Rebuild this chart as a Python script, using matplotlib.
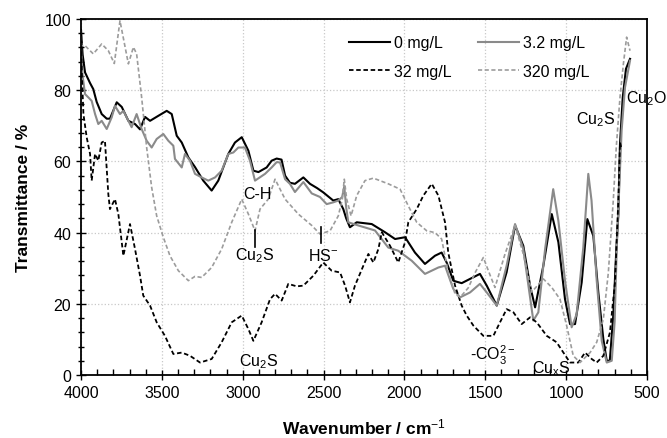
import matplotlib
matplotlib.use("Agg")
import matplotlib.pyplot as plt
from matplotlib.ticker import MultipleLocator

# ── datos (numero de onda [cm-1], transmitancia [%]) ──
wn_0 = [4000, 3990, 3975, 3944, 3924, 3903, 3872, 3841, 3821, 3779, 3748, 3707,
        3666, 3635, 3604, 3573, 3522, 3470, 3439, 3408, 3377, 3336, 3295, 3244,
        3192, 3151, 3089, 3048, 3006, 2965, 2934, 2903, 2852, 2821, 2790, 2760,
        2738, 2708, 2677, 2625, 2584, 2540, 2502, 2440, 2409, 2378, 2360, 2337,
        2295, 2202, 2120, 2058, 1996, 1935, 1873, 1811, 1770, 1739, 1698, 1677,
        1646, 1594, 1533, 1491, 1429, 1368, 1316, 1265, 1223, 1192, 1141, 1089,
        1048, 1007, 976, 945, 904, 869, 832, 801, 770, 749, 730, 708, 690, 677,
        667, 650, 630, 605]
t_0 = [97, 90, 85, 82, 80.3, 76.7, 73.3, 72, 72, 76.6, 75.3, 71.4,
       70.5, 69, 72.5, 71.4, 72.8, 74.2, 73.3, 67.2, 65.3, 61.1, 58.4, 54.6,
       51.8, 54.6, 62.1, 65.3, 66.8, 63, 57.4, 57, 58.3, 60.2, 60.8, 60.5,
       56, 54, 53.7, 55.5, 53.7, 52.5, 51.3, 49, 49.4, 46.6, 44, 41.5,
       42.9, 42.4, 40.1, 38.2, 38.7, 34.4, 31.2, 33.5, 34.4, 31.6, 26.5, 26.2,
       25.8, 27, 28.4, 25.1, 19.5, 28.9, 42, 36.3, 25.1, 19, 30.7, 45.2,
       37.3, 21.3, 14.3, 14.3, 26, 43.8, 39.1, 23.2, 10.1, 4, 4, 17.1, 35, 45.2,
       64.9, 78, 86, 88.8]

wn_3 = [4000, 3990, 3975, 3955, 3934, 3913, 3893, 3872, 3841, 3810, 3790, 3759,
        3738, 3707, 3687, 3656, 3625, 3594, 3563, 3532, 3491, 3460, 3429, 3419,
        3377, 3357, 3326, 3295, 3254, 3213, 3171, 3130, 3089, 3058, 3027, 2986,
        2955, 2924, 2862, 2821, 2790, 2769, 2738, 2708, 2677, 2625, 2573, 2522,
        2481, 2440, 2409, 2385, 2372, 2360, 2347, 2285, 2182, 2100, 2038, 1955,
        1873, 1790, 1749, 1698, 1656, 1594, 1533, 1491, 1429, 1368, 1316, 1265,
        1203, 1172, 1130, 1080, 1048, 1007, 966, 935, 894, 863, 843, 811, 780,
        749, 718, 700, 687, 657, 636, 605]
t_3 = [92, 84, 78.9, 78, 77, 73.3, 70.5, 71.4, 69.1, 72.4, 75.6, 73.3,
       74.2, 71.4, 69.6, 73.3, 69.1, 65.8, 63.9, 66.3, 67.7, 65.8, 64.4, 60.7,
       58.3, 62.1, 60.2, 56.5, 55.5, 54.6, 55.5, 57.4, 62.1, 62.5, 63.9, 63.9,
       60.2, 54.6, 56.5, 58.3, 59.8, 59.7, 55, 53.7, 51.4, 54.2, 51, 50,
       48, 48.5, 49, 50, 53, 47, 42.9, 42, 40.6, 35.8, 34.9, 32.1,
       28.4, 30.2, 30.7, 24.2, 21.8, 23.2, 25.6, 23.2, 19.5, 30.7, 42.4, 35.4,
       15.3, 17.6, 35.4, 52.2, 43.3, 26.5, 13.4, 17.1, 35.8, 56.5, 49, 26.5, 9.6,
       3.5, 4, 15, 35.8, 68.6, 80.8, 88.3]

wn_32 = [4000, 3995, 3985, 3965, 3944, 3934, 3913, 3893, 3872, 3852, 3831, 3821,
         3790, 3769, 3738, 3697, 3666, 3635, 3615, 3573, 3532, 3481, 3429, 3377,
         3326, 3264, 3192, 3130, 3068, 3006, 2965, 2934, 2883, 2831, 2800, 2759,
         2718, 2666, 2625, 2563, 2502, 2450, 2398, 2367, 2337, 2306, 2254, 2223,
         2192, 2161, 2140, 2089, 2038, 1996, 1976, 1924, 1883, 1831, 1790, 1749,
         1729, 1687, 1646, 1615, 1574, 1512, 1450, 1409, 1368, 1326, 1275, 1223,
         1182, 1120, 1059, 1017, 976, 925, 883, 842, 811, 770, 729, 698, 677,
         667, 660]
t_32 = [97, 85, 73.3, 66.8, 62.1, 54.6, 62.1, 60.2, 65.3, 65.8, 50.8, 46.6,
        49.4, 45.2, 33.5, 42.4, 35.4, 27.9, 22.3, 19.5, 14.8, 11, 5.9, 6.3,
        5.4, 3.5, 4.5, 9.2, 14.8, 16.7, 12.9, 9.6, 14.8, 21.3, 22.8, 20.9,
        25.6, 24.9, 25.1, 27.9, 31.6, 29.3, 28.8, 25.1, 20.4, 25.1, 30.7, 34,
        31.6, 35.4, 40.1, 36.3, 31.6, 37.3, 42.9, 46.6, 50.4, 53.7, 50.4, 42.9,
        34.4, 25.1, 19.5, 16.7, 13.9, 11, 11, 14.8, 18.5, 17.6, 14.3, 16.2,
        14.8, 11, 9.2, 6.3, 3.5, 3.5, 6.3, 4.5, 3.5, 5.4, 12, 26, 49.4,
        65.3, 64]

wn_320 = [4000, 3996, 3975, 3924, 3872, 3831, 3794, 3759, 3707, 3676, 3656, 3625,
          3594, 3563, 3532, 3491, 3450, 3398, 3336, 3295, 3254, 3192, 3130, 3068,
          3006, 2965, 2924, 2893, 2842, 2800, 2738, 2656, 2573, 2522, 2460, 2409,
          2384, 2372, 2357, 2330, 2295, 2244, 2192, 2100, 2027, 1976, 1924, 1862,
          1811, 1770, 1729, 1687, 1656, 1605, 1560, 1512, 1470, 1440, 1378, 1316,
          1265, 1213, 1141, 1089, 1038, 997, 956, 914, 852, 811, 770, 739, 708,
          690, 667, 646, 626, 605]
t_320 = [97, 92.5, 92.5, 90.2, 93, 91.1, 87.5, 99.5, 87.4, 92.1, 90.2, 78,
         63.9, 52.7, 44.7, 38.7, 33.5, 29.3, 26.5, 27.7, 27.4, 30.2, 35.4, 42.9,
         49.4, 45.2, 40.5, 46.6, 49.4, 55, 49.4, 45.2, 42, 39.6, 40.5, 44.7,
         49.4, 55, 49.4, 44.7, 50.4, 54.6, 55.3, 53.7, 52.2, 47.5, 42.9, 40.5,
         40, 38.2, 28.8, 22.8, 21.8, 24.5, 29, 33, 28, 24.6, 34, 42,
         34, 23.3, 27, 24.6, 21.3, 13.9, 5.4, 3.5, 6.3, 9.2, 15.7, 28.8, 49.4,
         64, 78, 87.4, 94.9, 91.1]

etiquetas = ["0 mg/L", "3.2 mg/L", "32 mg/L", "320 mg/L"]

plt.rcParams["font.family"] = ["Liberation Sans", "DejaVu Sans"]
plt.rcParams["mathtext.fontset"] = "custom"
plt.rcParams["mathtext.rm"] = "Liberation Sans"
plt.rcParams["mathtext.it"] = "Liberation Sans:italic"
plt.rcParams["mathtext.bf"] = "Liberation Sans:bold"

fig = plt.figure(figsize=(6.67, 4.39), dpi=100)
ax = fig.add_axes([81 / 667, 63 / 439, 566 / 667, 356 / 439])

l0, = ax.plot(wn_0, t_0, color="black", lw=1.5, label=etiquetas[0])
l3, = ax.plot(wn_3, t_3, color="#8a8a8a", lw=1.5, label=etiquetas[1])
l32, = ax.plot(wn_32, t_32, color="black", lw=1.3, ls=(0, (2.5, 1.5)),
               label=etiquetas[2])
l320, = ax.plot(wn_320, t_320, color="#9c9c9c", lw=1.2, ls=(0, (2.5, 1.5)),
                label=etiquetas[3])

ax.set_xlim(4000, 500)
ax.set_ylim(0, 100)
ax.xaxis.set_major_locator(MultipleLocator(500))
ax.xaxis.set_minor_locator(MultipleLocator(100))
ax.yaxis.set_major_locator(MultipleLocator(20))
ax.yaxis.set_minor_locator(MultipleLocator(4))
ax.tick_params(which="major", direction="inout", length=7, width=1, labelsize=11.5)
ax.tick_params(axis="x", which="minor", direction="in", length=4, width=1)
ax.tick_params(axis="y", which="minor", direction="inout", length=5, width=1)
ax.grid(True, which="major", ls=":", color="#c8c8c8", lw=0.9)
for s in ax.spines.values():
    s.set_linewidth(1.3)

ax.set_xlabel("Wavenumber / cm$^{-1}$", fontsize=12.5, fontweight="bold", labelpad=12)
ax.set_ylabel("Transmittance / %", fontsize=12.5, fontweight="bold", labelpad=10)

# ncol=2 rellena por columnas: ordenar para que la fila 1 sea 0 / 3.2
ax.legend([l0, l32, l3, l320], [etiquetas[0], etiquetas[2], etiquetas[1], etiquetas[3]],
          ncol=2, frameon=False, fontsize=11.5, handlelength=2.6,
          loc="upper left", bbox_to_anchor=(0.462, 0.972), borderaxespad=0,
          columnspacing=1.6, handletextpad=0.25, labelspacing=0.85)

# ── anotaciones de bandas ──
kw = dict(fontsize=11.5, ha="center", va="center")
ax.text(2912, 51, "C-H", **kw)
ax.plot([2924, 2924], [40.6, 35.9], color="black", lw=1.2)
ax.text(2924, 33.7, "Cu$_2$S", **kw)
ax.plot([2516, 2516], [41.6, 37.1], color="black", lw=1.2)
ax.text(2500, 33.7, "HS$^{-}$", **kw)
ax.text(2900, 4.0, "Cu$_2$S", **kw)
ax.text(1452, 5.9, "-CO$_3^{2-}$", **kw)
ax.text(1093, 2.0, "Cu$_\\mathrm{x}$S", **kw)
ax.text(815, 71.9, "Cu$_2$S", **kw)
ax.text(628, 78, "Cu$_2$O", fontsize=11.5, ha="left", va="center", clip_on=False)

fig.savefig("out.png", dpi=100)
